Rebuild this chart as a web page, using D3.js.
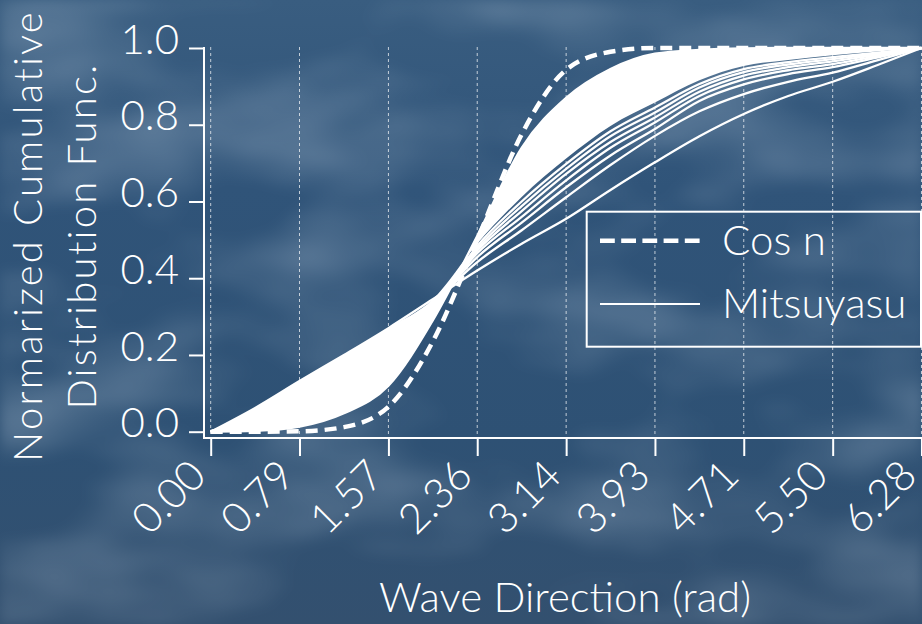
<!DOCTYPE html>
<html>
<head>
<meta charset="utf-8">
<script src="https://cdn.jsdelivr.net/npm/d3@7"></script>
<style>
  html, body { margin: 0; padding: 0; background: #2e5276; }
  svg { display: block; }
</style>
</head>
<body>
<div id="chart"></div>
<script>
// Wave direction grid (rad) and the curves
const THETA = [0, 0.393, 0.785, 1.178, 1.571, 1.963, 2.356, 2.749, 3.142,
  3.534, 3.927, 4.320, 4.712, 5.105, 5.498, 5.890, 6.283];

const COS_N = [0, 0, 0.001, 0.012, 0.065, 0.235, 0.500, 0.775, 0.943,
  0.990, 1.0, 1.0, 1.0, 1.0, 1.0, 1.0, 1.0];

// Mitsuyasu curves, widest spread first (the separate lines on the right)
const MITSU_1 = [0, 0.062, 0.132, 0.200, 0.270, 0.345, 0.420, 0.490, 0.555, 0.630, 0.702, 0.770, 0.828, 0.875, 0.912, 0.955, 1.0];
const MITSU_2 = [0, 0.052, 0.113, 0.176, 0.246, 0.336, 0.442, 0.525, 0.611, 0.695, 0.771, 0.835, 0.880, 0.912, 0.936, 0.968, 1.0];
const MITSU_3 = [0, 0.048, 0.105, 0.165, 0.236, 0.332, 0.455, 0.545, 0.637, 0.720, 0.789, 0.862, 0.905, 0.932, 0.950, 0.975, 1.0];
const MITSU_4 = [0, 0.045, 0.099, 0.157, 0.228, 0.330, 0.465, 0.560, 0.655, 0.740, 0.806, 0.875, 0.918, 0.942, 0.958, 0.979, 1.0];
const MITSU_5 = [0, 0.042, 0.093, 0.150, 0.221, 0.327, 0.472, 0.575, 0.672, 0.755, 0.819, 0.886, 0.928, 0.950, 0.965, 0.982, 1.0];
const MITSU_6 = [0, 0.040, 0.088, 0.144, 0.215, 0.325, 0.478, 0.588, 0.685, 0.770, 0.832, 0.897, 0.937, 0.957, 0.971, 0.985, 1.0];
const MITSU_7 = [0, 0.037, 0.083, 0.138, 0.209, 0.322, 0.484, 0.600, 0.698, 0.783, 0.845, 0.906, 0.945, 0.963, 0.976, 0.988, 1.0];
// narrowest Mitsuyasu curve
const MITSU_NARROW = [0, 0.002, 0.013, 0.048, 0.120, 0.290, 0.510, 0.740, 0.870, 0.945, 0.985, 0.995, 0.999, 1.0, 1.0, 1.0, 1.0];
// edge of the solid bundle of curves on the wide side
const BUNDLE_EDGE = [0, 0.062, 0.132, 0.200, 0.270, 0.345, 0.490, 0.612, 0.712, 0.797, 0.858, 0.916, 0.953, 0.969, 0.981, 0.991, 1.0];

const MITSU_LINES = [MITSU_1, MITSU_2, MITSU_3, MITSU_4, MITSU_5, MITSU_6, MITSU_7, MITSU_NARROW];

const X_TICKS = [0, 0.785, 1.571, 2.356, 3.142, 3.927, 4.712, 5.498, 6.283];
const X_TICK_LABELS = ['0.00', '0.79', '1.57', '2.36', '3.14', '3.93', '4.71', '5.50', '6.28'];
const Y_TICKS = [0, 0.2, 0.4, 0.6, 0.8, 1.0];
const Y_TICK_LABELS = ['0.0', '0.2', '0.4', '0.6', '0.8', '1.0'];
const LEGEND = ['Cos n', 'Mitsuyasu'];

const W = 922, H = 624;
const FONT = "Lato, 'Noto Sans', sans-serif";
const WHITE = '#ffffff';
const SPINE_X = 204, SPINE_Y = 438;

const svg = d3.select('#chart').append('svg').attr('width', W).attr('height', H);

// background: deep blue with soft cloud texture
const defs = svg.append('defs');
const grad = defs.append('linearGradient').attr('id', 'bg').attr('x1', 0).attr('y1', 0).attr('x2', 0).attr('y2', 1);
grad.append('stop').attr('offset', '0%').attr('stop-color', '#395d80');
grad.append('stop').attr('offset', '30%').attr('stop-color', '#305479');
grad.append('stop').attr('offset', '70%').attr('stop-color', '#2e5174');
grad.append('stop').attr('offset', '100%').attr('stop-color', '#33506f');

const clouds = defs.append('filter').attr('id', 'clouds')
  .attr('x', 0).attr('y', 0).attr('width', '100%').attr('height', '100%');
clouds.append('feTurbulence').attr('type', 'fractalNoise')
  .attr('baseFrequency', '0.005 0.011').attr('numOctaves', 3).attr('seed', 11);
clouds.append('feColorMatrix').attr('type', 'matrix')
  .attr('values', '0 0 0 0 0.70  0 0 0 0 0.80  0 0 0 0 0.90  1.8 0 0 0 -0.72');
clouds.append('feGaussianBlur').attr('stdDeviation', 6);

svg.append('rect').attr('width', W).attr('height', H).attr('fill', 'url(#bg)');
svg.append('rect').attr('width', W).attr('height', H).attr('filter', 'url(#clouds)').attr('opacity', 0.3);

const x = d3.scaleLinear().domain([0, 2 * Math.PI]).range([210.7, 921.5]);
const y = d3.scaleLinear().domain([0, 1]).range([431.7, 48]);

// vertical dotted grid
svg.append('g').selectAll('line').data(X_TICKS).join('line')
  .attr('x1', d => x(d)).attr('x2', d => x(d))
  .attr('y1', y(1) - 1).attr('y2', SPINE_Y)
  .attr('stroke', WHITE).attr('stroke-width', 1)
  .attr('stroke-dasharray', '3,3').attr('opacity', 0.7);

// axes
const yAxis = svg.append('g').attr('transform', `translate(${SPINE_X},0)`)
  .call(d3.axisLeft(y).tickValues(Y_TICKS).tickSize(15).tickPadding(10)
    .tickFormat((d, i) => Y_TICK_LABELS[i]));
const xAxis = svg.append('g').attr('transform', `translate(0,${SPINE_Y})`)
  .call(d3.axisBottom(x).tickValues(X_TICKS).tickSize(18)
    .tickFormat((d, i) => X_TICK_LABELS[i]));

[yAxis, xAxis].forEach(ax => {
  ax.select('.domain').remove();
  ax.selectAll('line').attr('stroke', WHITE).attr('stroke-width', 2);
  ax.selectAll('text').attr('fill', WHITE).attr('font-family', FONT)
    .attr('font-weight', 300).attr('font-size', 42);
});
yAxis.selectAll('text').attr('dy', '0.12em');
xAxis.selectAll('text')
  .attr('x', 0).attr('y', 0).attr('dy', 0)
  .attr('text-anchor', 'end')
  .attr('transform', 'translate(-3,40) rotate(-45)');

// spines
svg.append('line').attr('x1', SPINE_X).attr('x2', SPINE_X).attr('y1', y(1) - 1).attr('y2', SPINE_Y + 1)
  .attr('stroke', WHITE).attr('stroke-width', 2);
svg.append('line').attr('x1', SPINE_X - 1).attr('x2', W).attr('y1', SPINE_Y).attr('y2', SPINE_Y)
  .attr('stroke', WHITE).attr('stroke-width', 2);

const plot = svg.append('g');

// dense bundle of Mitsuyasu curves
plot.append('path')
  .datum(THETA.map((t, i) => ({ t, lo: BUNDLE_EDGE[i], hi: MITSU_NARROW[i] })))
  .attr('fill', WHITE)
  .attr('d', d3.area().curve(d3.curveMonotoneX)
    .x(d => x(d.t)).y0(d => y(d.lo)).y1(d => y(d.hi)));

const line = d3.line().curve(d3.curveMonotoneX).x((d, i) => x(THETA[i])).y(d => y(d));

plot.selectAll('path.mitsu').data(MITSU_LINES).join('path')
  .attr('class', 'mitsu')
  .attr('d', line)
  .attr('fill', 'none').attr('stroke', WHITE).attr('stroke-width', 2.3)
  .attr('stroke-linejoin', 'round');

plot.append('path').datum(COS_N)
  .attr('d', line)
  .attr('fill', 'none').attr('stroke', WHITE).attr('stroke-width', 4.5)
  .attr('stroke-dasharray', '12,7');

// legend
const lg = svg.append('g');
lg.append('rect').attr('x', 586.7).attr('y', 211.7).attr('width', 334.3).attr('height', 135)
  .attr('fill', 'none').attr('stroke', WHITE).attr('stroke-width', 2);
LEGEND.forEach((name, i) => {
  const yy = 240.7 + i * 63.3;
  lg.append('line').attr('x1', 600).attr('x2', 700).attr('y1', yy).attr('y2', yy)
    .attr('stroke', WHITE)
    .attr('stroke-width', i === 0 ? 4.5 : 2)
    .attr('stroke-dasharray', i === 0 ? '14.8,6.4' : null);
  lg.append('text').attr('x', 722).attr('y', yy + 14)
    .attr('fill', WHITE).attr('font-family', FONT).attr('font-weight', 300).attr('font-size', 42)
    .text(name);
});

// axis titles
svg.append('text')
  .attr('transform', 'translate(565,612)')
  .attr('text-anchor', 'middle')
  .attr('fill', WHITE).attr('font-family', FONT).attr('font-weight', 300).attr('font-size', 42)
  .text('Wave Direction (rad)');

const yTitle = svg.append('text')
  .attr('transform', 'translate(0,236) rotate(-90)')
  .attr('text-anchor', 'middle')
  .attr('fill', WHITE).attr('font-family', FONT).attr('font-weight', 300).attr('font-size', 40)
  .attr('letter-spacing', 2.2);
yTitle.append('tspan').attr('x', 0).attr('y', 42).text('Normarized Cumulative');
yTitle.append('tspan').attr('x', 0).attr('y', 96).text('Distribution Func.');
</script>
</body>
</html>
